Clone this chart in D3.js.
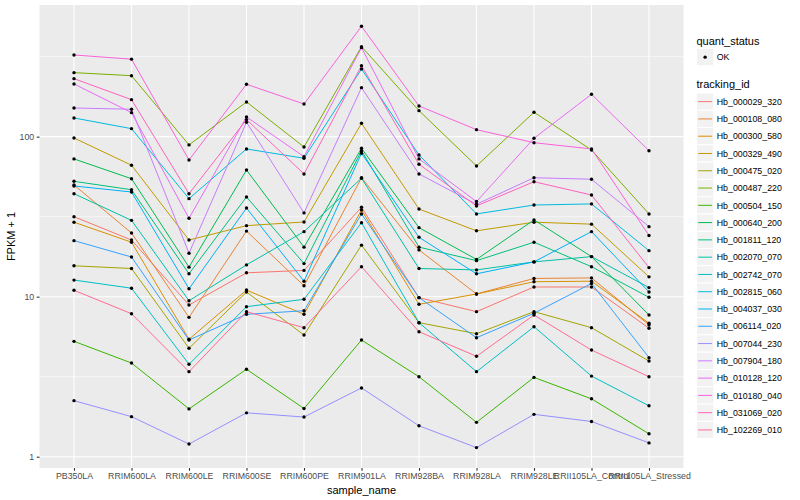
<!DOCTYPE html>
<html>
<head>
<meta charset="utf-8">
<script src="https://cdn.jsdelivr.net/npm/d3@7"></script>
<style>
  body { margin: 0; background: #fff; }
  svg { font-family: 'Liberation Sans', Arial, sans-serif; }
</style>
</head>
<body>
<div id="main"></div>
<script>
const samples = ['PB350LA', 'RRIM600LA', 'RRIM600LE', 'RRIM600SE', 'RRIM600PE', 'RRIM901LA',
  'RRIM928BA', 'RRIM928LA', 'RRIM928LE', 'RRII105LA_Control', 'RRII105LA_Stressed']

const trackingIds = ['Hb_000029_320', 'Hb_000108_080', 'Hb_000300_580', 'Hb_000329_490',
  'Hb_000475_020', 'Hb_000487_220', 'Hb_000504_150', 'Hb_000640_200', 'Hb_001811_120',
  'Hb_002070_070', 'Hb_002742_070', 'Hb_002815_060', 'Hb_004037_030', 'Hb_006114_020',
  'Hb_007044_230', 'Hb_007904_180', 'Hb_010128_120', 'Hb_010180_040', 'Hb_031069_020',
  'Hb_102269_010']

// FPKM + 1, one row per tracking_id, one value per sample
const fpkmPlusOne = [
  [31.6, 22.6, 8.87, 14.1, 14.6, 36.2, 9.86, 8.06, 11.5, 11.5, 6.35],
  [49.9, 25.0, 7.43, 25.7, 11.7, 55.4, 19.6, 10.4, 13.0, 13.1, 6.66],
  [29.2, 21.9, 5.42, 11.0, 7.76, 34.8, 8.96, 10.4, 12.4, 12.5, 6.82],
  [98.1, 66.3, 22.6, 27.8, 29.3, 121.2, 35.3, 25.8, 29.2, 28.4, 13.3],
  [15.6, 15.0, 4.76, 10.7, 5.76, 21.0, 6.88, 5.87, 8.06, 6.40, 3.96],
  [251.2, 240.5, 88.8, 164.8, 86.2, 365.2, 145.4, 65.6, 142.1, 82.6, 32.9],
  [5.26, 3.85, 1.99, 3.52, 2.00, 5.36, 3.16, 1.64, 3.13, 2.30, 1.39],
  [72.6, 54.6, 15.3, 61.9, 20.4, 84.6, 27.0, 17.1, 30.2, 17.8, 7.68],
  [52.6, 46.6, 13.9, 42.0, 16.1, 81.7, 20.4, 16.8, 21.9, 15.4, 9.91],
  [44.0, 30.0, 9.44, 15.8, 25.5, 55.0, 15.0, 14.7, 16.5, 17.8, 11.4],
  [12.7, 11.3, 3.78, 8.66, 9.63, 29.0, 6.88, 3.40, 6.49, 3.19, 2.08],
  [130.9, 112.2, 41.0, 83.8, 73.3, 264.9, 76.8, 32.9, 37.4, 38.0, 19.4],
  [49.2, 45.1, 11.2, 35.8, 12.5, 78.8, 23.5, 13.9, 16.5, 25.5, 10.7],
  [22.4, 17.7, 5.36, 7.76, 8.17, 32.9, 9.86, 5.54, 7.88, 12.1, 4.16],
  [2.24, 1.78, 1.20, 1.88, 1.77, 2.69, 1.56, 1.14, 1.84, 1.66, 1.22],
  [151.1, 148.3, 18.7, 123.0, 33.4, 202.5, 58.5, 37.8, 55.4, 54.2, 27.4],
  [213.5, 141.3, 30.9, 132.8, 75.0, 360.0, 72.6, 39.3, 97.7, 184.1, 81.7],
  [324.0, 305.0, 71.5, 212.6, 160.0, 490.0, 155.5, 110.6, 91.7, 83.8, 24.1],
  [230.4, 170.3, 44.0, 127.8, 58.5, 277.8, 67.2, 36.9, 52.3, 43.2, 15.2],
  [10.96, 7.83, 3.40, 8.06, 6.40, 15.4, 6.04, 4.24, 7.68, 4.64, 3.16]
]

const yTicks = [1, 10, 100]
const yMinor = [3.162, 31.62, 316.2]

const palette = ['#F8766D', '#EA8331', '#D89000', '#C09B00', '#A3A500', '#7CAE00', '#39B600',
  '#00BB4E', '#00BF7D', '#00C1A3', '#00BFC4', '#00BAE0', '#00B0F6', '#35A2FF', '#9590FF',
  '#C77CFF', '#E76BF3', '#FA62DB', '#FF62BC', '#FF6C91']

const width = 800
const height = 500
const panel = { left: 39.5, right: 683.5, top: 5, bottom: 468 }

const svg = d3.select('#main').append('svg')
  .attr('width', width)
  .attr('height', height)

const x = d3.scalePoint().domain(samples).range([panel.left, panel.right]).padding(0.6)
const y = d3.scaleLog().domain([0.85, 665]).range([panel.bottom, panel.top])
const color = d3.scaleOrdinal().domain(trackingIds).range(palette)

// panel background + grid
svg.append('rect')
  .attr('x', panel.left).attr('y', panel.top)
  .attr('width', panel.right - panel.left).attr('height', panel.bottom - panel.top)
  .attr('fill', '#EBEBEB')

const grid = svg.append('g')
grid.selectAll('.minor').data(yMinor).enter().append('line')
  .attr('x1', panel.left).attr('x2', panel.right)
  .attr('y1', d => y(d)).attr('y2', d => y(d))
  .attr('stroke', '#fff').attr('stroke-width', 0.55)
grid.selectAll('.major').data(yTicks).enter().append('line')
  .attr('x1', panel.left).attr('x2', panel.right)
  .attr('y1', d => y(d)).attr('y2', d => y(d))
  .attr('stroke', '#fff').attr('stroke-width', 1.1)
grid.selectAll('.vmajor').data(samples).enter().append('line')
  .attr('x1', d => x(d)).attr('x2', d => x(d))
  .attr('y1', panel.top).attr('y2', panel.bottom)
  .attr('stroke', '#fff').attr('stroke-width', 1.1)

const series = trackingIds.map((id, i) => ({
  id,
  values: samples.map((s, j) => ({ sample: s, value: fpkmPlusOne[i][j] }))
}))

const line = d3.line().x(d => x(d.sample)).y(d => y(d.value))

svg.append('g').selectAll('path')
  .data(series).enter().append('path')
  .attr('d', d => line(d.values))
  .attr('fill', 'none')
  .attr('stroke', d => color(d.id))
  .attr('stroke-width', 1)

svg.append('g').selectAll('circle')
  .data(series.flatMap(d => d.values)).enter().append('circle')
  .attr('cx', d => x(d.sample))
  .attr('cy', d => y(d.value))
  .attr('r', 1.7)
  .attr('fill', '#000')

// axes
const yAxis = svg.append('g')
  .attr('transform', `translate(${panel.left},0)`)
  .call(d3.axisLeft(y).tickValues(yTicks).tickFormat(d3.format('d')).tickSize(2.75).tickPadding(2.5))
const xAxis = svg.append('g')
  .attr('transform', `translate(0,${panel.bottom})`)
  .call(d3.axisBottom(x).tickSize(2.75).tickPadding(2.5))
for (const ax of [xAxis, yAxis]) {
  ax.select('.domain').remove()
  ax.selectAll('.tick line').attr('stroke', '#333333').attr('stroke-width', 1.1)
  ax.selectAll('.tick text').attr('fill', '#4D4D4D').attr('font-size', 8.8)
    .style('font-family', "'Liberation Sans', Arial, sans-serif")
}

svg.append('text')
  .attr('x', (panel.left + panel.right) / 2).attr('y', 494)
  .attr('text-anchor', 'middle').attr('font-size', 11).attr('fill', '#000')
  .text('sample_name')

svg.append('text')
  .attr('transform', `translate(15,${(panel.top + panel.bottom) / 2}) rotate(-90)`)
  .attr('text-anchor', 'middle').attr('font-size', 11).attr('fill', '#000')
  .text('FPKM + 1')

// legends
const key = 17.28
const lx = 696.5
const legend = svg.append('g')

legend.append('text').attr('x', lx).attr('y', 44.5).attr('font-size', 11).text('quant_status')
legend.append('rect').attr('x', lx).attr('y', 48.5).attr('width', key).attr('height', key)
  .attr('fill', '#F2F2F2').attr('stroke', '#fff')
legend.append('circle').attr('cx', lx + key / 2).attr('cy', 48.5 + key / 2).attr('r', 1.7).attr('fill', '#000')
legend.append('text').attr('x', lx + key + 3).attr('y', 48.5 + key / 2 + 3.2)
  .attr('font-size', 8.8).attr('fill', '#000').text('OK')

legend.append('text').attr('x', lx).attr('y', 88).attr('font-size', 11).text('tracking_id')
const keys = legend.selectAll('.key').data(trackingIds).enter().append('g')
  .attr('transform', (d, i) => `translate(${lx},${93 + i * key})`)
keys.append('rect').attr('width', key).attr('height', key)
  .attr('fill', '#F2F2F2').attr('stroke', '#fff')
keys.append('line')
  .attr('x1', 1.7).attr('x2', key - 1.7)
  .attr('y1', key / 2).attr('y2', key / 2)
  .attr('stroke', d => color(d)).attr('stroke-width', 1)
keys.append('text').attr('x', key + 3).attr('y', key / 2 + 3.2)
  .attr('font-size', 8.8).attr('fill', '#000').text(d => d)
</script>
</body>
</html>
